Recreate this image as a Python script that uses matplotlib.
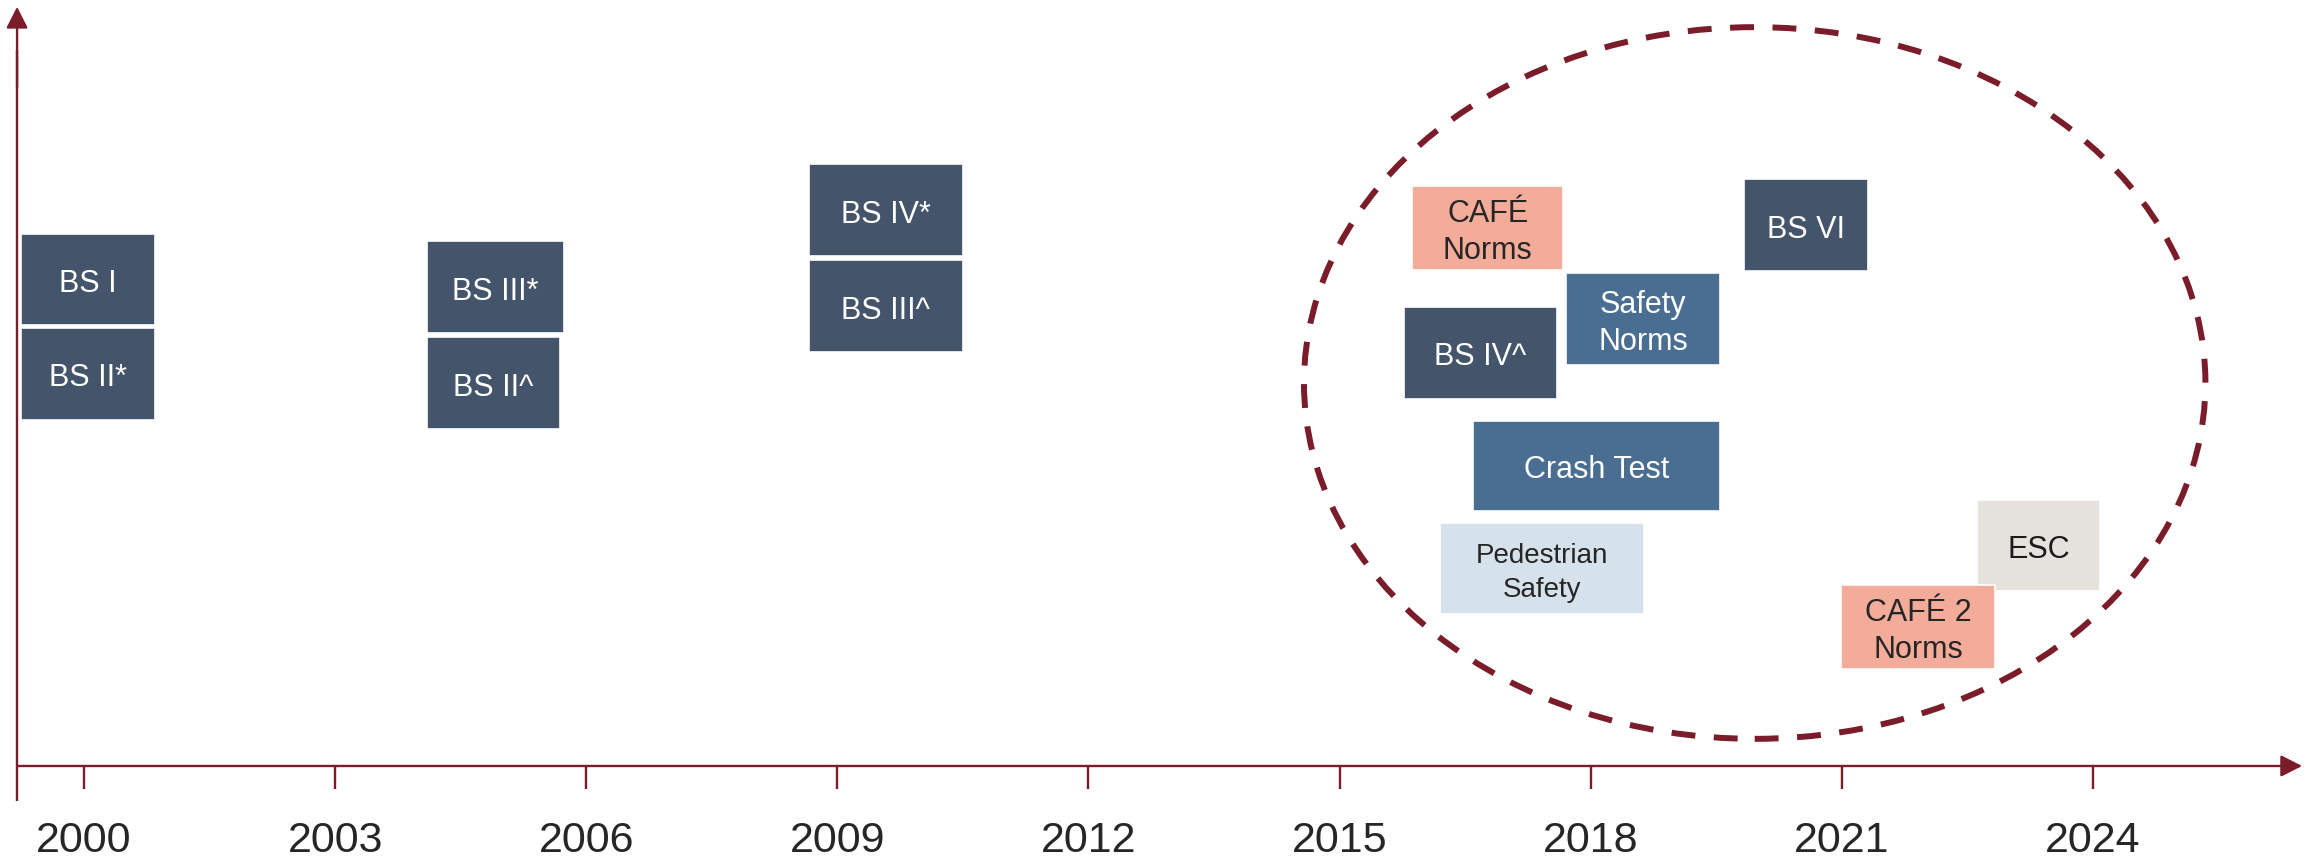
import matplotlib
matplotlib.use('Agg')
import matplotlib.pyplot as plt
from matplotlib.patches import Rectangle, Ellipse

# years on the timeline
tick_years = [2000, 2003, 2006, 2009, 2012, 2015, 2018, 2021, 2024]

# norm boxes: label, start year, end year, bottom, top (y in % of axis height)
labels = ['BS I', 'BS II*', 'BS III*', 'BS II^', 'BS IV*', 'BS III^',
          'CAFÉ\nNorms', 'Safety\nNorms', 'BS VI', 'BS IV^', 'Crash Test',
          'Pedestrian\nSafety', 'ESC', 'CAFÉ 2\nNorms']
start_year = [1999.25, 1999.25, 2004.10, 2004.10, 2008.66, 2008.66,
              2015.87, 2017.70, 2019.83, 2015.77, 2016.59,
              2016.20, 2022.61, 2020.99]
end_year = [2000.85, 2000.85, 2005.73, 2005.69, 2010.50, 2010.50,
            2017.67, 2019.55, 2021.31, 2017.60, 2019.55,
            2018.64, 2024.09, 2022.83]
bottom = [58.5, 45.9, 57.4, 44.7, 67.6, 54.9,
          65.8, 53.2, 65.6, 48.7, 33.8,
          20.2, 23.2, 12.9]
top = [70.6, 58.1, 69.6, 56.9, 79.8, 67.1,
       76.9, 65.4, 77.9, 60.9, 45.8,
       32.2, 35.3, 24.0]
kind = ['bs', 'bs', 'bs', 'bs', 'bs', 'bs',
        'cafe', 'safety', 'bs', 'bs', 'safety',
        'ped', 'esc', 'cafe']

# recent-norms ring: centre year, centre y, width (years), height
ring = (2019.96, 50.8, 10.77, 94.4)

def setup_matplotlib():
    params = {'font.family': ['Liberation Sans', 'DejaVu Sans'],
              'figure.figsize': [23.18, 8.6],
              'figure.dpi': 100,
              'savefig.dpi': 100}
    plt.rcParams.update(params)

def plot_timeline():
    setup_matplotlib()
    maroon = '#7b1c2a'
    label_grey = '#262626'
    fills = {'bs': '#44546a', 'safety': '#4a6e91', 'ped': '#d6e2eb',
             'cafe': '#f4ac9a', 'esc': '#e5e2dd'}
    text_col = {'bs': 'white', 'safety': 'white', 'ped': '#262626',
                'cafe': '#262626', 'esc': '#1a1a1a'}

    fig = plt.figure()
    ax = fig.add_axes([0, 0, 1, 1])
    ax.set_xlim(1998.996, 2026.69)
    ax.set_ylim(-12.47, 101.6)
    ax.axis('off')

    # axes with arrow heads
    x0, x1 = 1999.2, 2026.5
    head = '-|>,head_length=0.65,head_width=0.33'
    ax.plot([x0, x0], [-4.6, 95], color=maroon, lw=1.7, solid_capstyle='butt')
    ax.annotate('', xy=(x0, 100.7), xytext=(x0, 90),
                arrowprops=dict(arrowstyle=head, color=maroon, lw=1.7,
                                shrinkA=0, shrinkB=0, mutation_scale=20))
    ax.annotate('', xy=(x1, 0), xytext=(x0, 0),
                arrowprops=dict(arrowstyle=head, color=maroon, lw=1.7,
                                shrinkA=0, shrinkB=0, mutation_scale=20))
    for yr in tick_years:
        ax.plot([yr, yr], [0, -3.05], color=maroon, lw=1.7, solid_capstyle='butt')
        ax.text(yr, -10.0, str(yr), ha='center', va='center',
                fontsize=31, color=label_grey)

    # boxes
    for lab, s, e, b, t, k in zip(labels, start_year, end_year, bottom, top, kind):
        ax.add_patch(Rectangle((s, b), e - s, t - b, facecolor=fills[k],
                               edgecolor='white', lw=1.2, zorder=3))
        fs = 20 if k == 'ped' else 22
        ls = 1.42 if k == 'ped' else 1.3
        ax.text((s + e) / 2, (b + t) / 2 - 0.6, lab, ha='center', va='center',
                fontsize=fs, color=text_col[k], linespacing=ls, zorder=4)

    cx, cy, w, h = ring
    ax.add_patch(Ellipse((cx, cy), w, h, fill=False, edgecolor=maroon,
                         lw=4.3, linestyle=(0, (4.0, 3.1)), zorder=2))

    plt.savefig('out.png', dpi=100)

if __name__ == '__main__':
    plot_timeline()
